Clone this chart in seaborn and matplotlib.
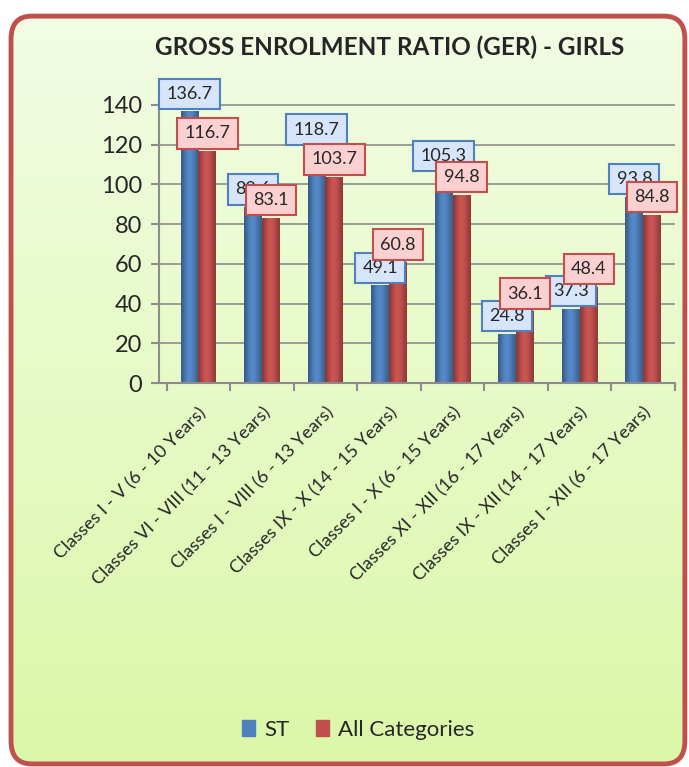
import pandas as pd
import numpy as np
import seaborn as sns
import matplotlib.pyplot as plt
from matplotlib.patches import FancyBboxPatch
from matplotlib.colors import to_rgb

categories = ['Classes I - V (6 - 10 Years)', 'Classes VI - VIII (11 - 13 Years)',
              'Classes I - VIII (6 - 13 Years)', 'Classes IX - X (14 - 15 Years)',
              'Classes I - X (6 - 15 Years)', 'Classes XI - XII (16 - 17 Years)',
              'Classes IX - XII (14 - 17 Years)', 'Classes I - XII (6 - 17 Years)']
st_values = [136.7, 88.6, 118.7, 49.1, 105.3, 24.8, 37.3, 93.8]
all_values = [116.7, 83.1, 103.7, 60.8, 94.8, 36.1, 48.4, 84.8]
series = ['ST', 'All Categories']
colors = ['#4f81bd', '#c0504d']

data = pd.DataFrame({
    'Category': categories * 2,
    'GER': st_values + all_values,
    'Series': ['ST'] * len(categories) + ['All Categories'] * len(categories),
})

sns.set_style('white')
plt.rcParams['font.family'] = ['Lato', 'DejaVu Sans']

fig = plt.figure(figsize=(6.89, 7.67), dpi=100)

# background panel with rounded red border and soft green gradient
bg = fig.add_axes([0, 0, 1, 1], zorder=0)
bg.set_xlim(0, 1)
bg.set_ylim(0, 1)
bg.axis('off')
grad = np.linspace(0, 1, 256).reshape(-1, 1)
top = np.array([0.95, 0.99, 0.90])
bottom = np.array([0.86, 0.97, 0.66])
img = top + (bottom - top) * grad[:, :, None]
im = bg.imshow(img, extent=[0, 1, 0, 1], aspect='auto', origin='upper')
panel = FancyBboxPatch((0.016, 0.004), 0.978, 0.975, boxstyle='round,pad=0,rounding_size=0.03',
                       transform=bg.transAxes, facecolor='none', edgecolor='#c0504d', linewidth=3.5)
bg.add_patch(panel)
im.set_clip_path(panel)

ax = fig.add_axes([159 / 689, 1 - 383 / 767, 516 / 689, 288 / 767], zorder=1)
ax.patch.set_alpha(0)
sns.barplot(data=data, x='Category', y='GER', hue='Series', palette=colors,
            width=0.56, gap=0.0, ax=ax, edgecolor='none', saturation=1)

ax.set_ylim(0, 145)
ax.set_xlim(-0.62, 7.5)

# cylinder-like shading on each bar
shade = np.array([0.72, 0.95, 1.08, 1.05, 0.92, 0.75])
for container, c in zip(ax.containers, colors):
    base = np.array(to_rgb(c))
    strip = np.clip(base[None, :] * shade[:, None], 0, 1)[None, :, :]
    for bar in container:
        x0, w, h = bar.get_x(), bar.get_width(), bar.get_height()
        g = ax.imshow(strip, extent=[x0, x0 + w, 0, h], aspect='auto',
                      interpolation='bicubic', zorder=bar.get_zorder() + 0.1)
        g.set_clip_path(bar)
ax.set_xlim(-0.62, 7.5)
ax.set_ylim(0, 145)

ax.set_yticks(range(0, 141, 20))
ax.set_xticks(np.arange(-0.5, 7.6, 1), minor=True)
ax.yaxis.grid(True, color='#8c8c8c', linewidth=1.2)
ax.set_axisbelow(True)
for s in ['top', 'right']:
    ax.spines[s].set_visible(False)
for s in ['left', 'bottom']:
    ax.spines[s].set_color('#8c8c8c')
    ax.spines[s].set_linewidth(1.5)
ax.tick_params(axis='y', labelsize=17, left=True, length=6, width=1.5, color='#8c8c8c', pad=6)
ax.tick_params(axis='x', which='major', labelsize=13, bottom=False, pad=12)
ax.tick_params(axis='x', which='minor', bottom=True, length=6, width=1.5, color='#8c8c8c')
ax.set_xlabel('')
ax.set_ylabel('')
plt.setp(ax.get_xticklabels(), rotation=45, ha='right', rotation_mode='anchor')

box_styles = [dict(boxstyle='square,pad=0.4', facecolor='#d7e5fb', edgecolor='#4f81bd', linewidth=1.5),
              dict(boxstyle='square,pad=0.4', facecolor='#fbd0d0', edgecolor='#c0504d', linewidth=1.5)]
for container, style in zip(ax.containers, box_styles):
    ax.bar_label(container, fmt='%.1f', padding=7, fontsize=13, bbox=style, zorder=5)

ax.legend_.remove()
handles = [plt.Rectangle((0, 0), 1, 1, color=c) for c in colors]
fig.legend(handles, series, loc='center', bbox_to_anchor=(0.52, 1 - 730 / 767), ncol=2,
           frameon=False, fontsize=16, handlelength=0.6, handleheight=0.75,
           handletextpad=0.4, columnspacing=1.2)

fig.text(0.565, 1 - 47 / 767, 'GROSS ENROLMENT RATIO (GER) - GIRLS', ha='center', va='center',
         fontsize=17.5, fontweight='bold')

fig.savefig('out.png', dpi=100)
